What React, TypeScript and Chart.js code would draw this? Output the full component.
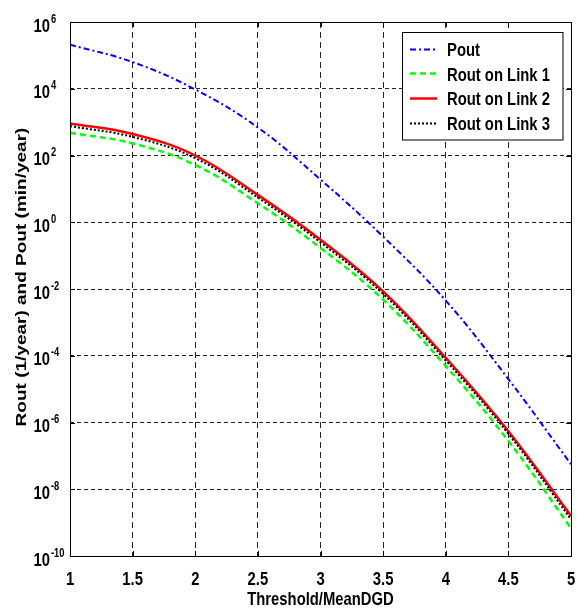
import React, { useEffect, useRef } from "react";
import { Chart, registerables } from "chart.js";

Chart.register(...registerables);

const xValues = [1, 1.5, 2, 2.5, 3, 3.5, 4, 4.5, 5];
const xTickLabels = ["1", "1.5", "2", "2.5", "3", "3.5", "4", "4.5", "5"];
const yTickExponents = [-10, -8, -6, -4, -2, 0, 2, 4, 6];

const pout = [2.1e5, 6.3e4, 9.5e3, 6.9e2, 1.9e1, 3.7e-1, 4.5e-3, 2.0e-5, 5.6e-8];
const routLink1 = [4.8e2, 2.3e2, 5.2e1, 3.7, 1.7e-1, 4.8e-3, 4.9e-5, 2.8e-7, 6.8e-10];
const routLink2 = [9.1e2, 4.4e2, 1.0e2, 6.6, 3.0e-1, 8.5e-3, 8.7e-5, 5.5e-7, 1.6e-9];
const routLink3 = [7.6e2, 3.6e2, 8.3e1, 5.5, 2.5e-1, 7.1e-3, 7.2e-5, 4.6e-7, 1.26e-9];

const seriesNames = ["Pout", "Rout on Link 1", "Rout on Link 2", "Rout on Link 3"];
const xTitle = "Threshold/MeanDGD";
const yTitle = "Rout (1/year) and Pout (min/year)";

const FONT = '"Liberation Sans", Arial, sans-serif';
const SX = 0.78;

function drawText(ctx: CanvasRenderingContext2D, s: string, x: number, y: number, size: number, align: CanvasTextAlign) {
  ctx.save();
  ctx.translate(x, y);
  ctx.scale(SX, 1);
  ctx.font = `bold ${size}px ${FONT}`;
  ctx.textAlign = align;
  ctx.textBaseline = "alphabetic";
  ctx.fillStyle = "#000";
  ctx.fillText(s, 0, 0);
  ctx.restore();
}

const framePlugin = {
  id: "matlabFrame",
  afterDraw(chart: any) {
    const ctx: CanvasRenderingContext2D = chart.ctx;
    const { left, right, top, bottom } = chart.chartArea;
    const xs = chart.scales.x;
    const ys = chart.scales.y;

    ctx.save();
    // inward ticks
    ctx.strokeStyle = "#000";
    ctx.lineWidth = 1;
    ctx.setLineDash([]);
    ctx.beginPath();
    xs.ticks.forEach((t: any) => {
      const px = Math.round(xs.getPixelForValue(t.value)) + 0.5;
      ctx.moveTo(px, bottom);
      ctx.lineTo(px, bottom - 5);
      ctx.moveTo(px, top);
      ctx.lineTo(px, top + 5);
    });
    ys.ticks.forEach((t: any) => {
      const py = Math.round(ys.getPixelForValue(t.value)) + 0.5;
      ctx.moveTo(left, py);
      ctx.lineTo(left + 5, py);
      ctx.moveTo(right, py);
      ctx.lineTo(right - 5, py);
    });
    ctx.stroke();
    // frame
    ctx.strokeRect(Math.round(left) + 0.5, Math.round(top) + 0.5, Math.round(right - left), Math.round(bottom - top));

    // y tick labels
    ys.ticks.forEach((t: any) => {
      const py = ys.getPixelForValue(t.value);
      const e = Math.round(Math.log10(t.value));
      drawText(ctx, "10", 50, py + 9.5, 19, "right");
      drawText(ctx, String(e), 51, py + 0.5, 12, "left");
    });
    // x tick labels
    xs.ticks.forEach((t: any, i: number) => {
      const px = xs.getPixelForValue(t.value);
      drawText(ctx, xTickLabels[i] ?? String(t.value), px, 584.5, 19, "center");
    });
    // titles
    drawText(ctx, xTitle, (left + right) / 2, 605, 19, "center");
    ctx.save();
    ctx.translate(26, 277);
    ctx.scale(SX, 1);
    ctx.rotate(-Math.PI / 2);
    ctx.font = `bold 19px ${FONT}`;
    ctx.textAlign = "center";
    ctx.textBaseline = "alphabetic";
    ctx.fillStyle = "#000";
    ctx.fillText(yTitle, 0, 0);
    ctx.restore();

    // legend
    const bx = 402.5, by = 32.5, bw = 160.5, bh = 107.5;
    ctx.fillStyle = "#fff";
    ctx.fillRect(bx, by, bw, bh);
    ctx.strokeStyle = "#000";
    ctx.lineWidth = 1;
    ctx.setLineDash([]);
    ctx.strokeRect(bx, by, bw, bh);
    chart.data.datasets.forEach((ds: any, i: number) => {
      const base = 56 + i * 24.7;
      const ly = Math.round(base - 7.5) + 0.5;
      ctx.save();
      ctx.strokeStyle = ds.borderColor;
      ctx.lineWidth = ds.borderWidth;
      ctx.setLineDash(ds.borderDash || []);
      ctx.beginPath();
      ctx.moveTo(410, ly);
      ctx.lineTo(437, ly);
      ctx.stroke();
      ctx.restore();
      drawText(ctx, ds.label, 447, base, 19, "left");
    });
    ctx.restore();
  },
};

export default function App() {
  const ref = useRef<HTMLCanvasElement | null>(null);
  useEffect(() => {
    if (!ref.current) return;
    const mk = (vals: number[]) => xValues.map((x, i) => ({ x, y: vals[i] }));
    const chart = new Chart(ref.current, {
      type: "line",
      data: {
        datasets: [
          { label: seriesNames[0], data: mk(pout), borderColor: "#0000ff", borderWidth: 2, borderDash: [6, 3, 2, 3], order: 4 },
          { label: seriesNames[1], data: mk(routLink1), borderColor: "#00ff00", borderWidth: 2.5, borderDash: [6, 4], order: 3 },
          { label: seriesNames[2], data: mk(routLink2), borderColor: "#ff0000", borderWidth: 2.5, borderDash: [], order: 2 },
          { label: seriesNames[3], data: mk(routLink3), borderColor: "#000000", borderWidth: 2, borderDash: [2, 2], order: 1 },
        ] as any,
      },
      options: {
        animation: false,
        responsive: false,
        devicePixelRatio: 1,
        layout: { padding: { left: 70, top: 22, right: 7, bottom: 55 } },
        elements: { point: { radius: 0 }, line: { tension: 0.4, fill: false } },
        plugins: { legend: { display: false }, tooltip: { enabled: false } },
        scales: {
          x: {
            type: "linear",
            min: 1,
            max: 5,
            afterBuildTicks: (s: any) => {
              s.ticks = xValues.map((v) => ({ value: v }));
            },
            ticks: { display: false },
            grid: { color: "#222", lineWidth: 1, drawTicks: false },
            border: { display: false, dash: [6, 4] },
          },
          y: {
            type: "logarithmic",
            min: 1e-10,
            max: 1e6,
            afterBuildTicks: (s: any) => {
              s.ticks = yTickExponents.map((e) => ({ value: Math.pow(10, e) }));
            },
            ticks: { display: false },
            grid: { color: "#222", lineWidth: 1, drawTicks: false },
            border: { display: false, dash: [4, 3] },
          },
        },
      } as any,
      plugins: [framePlugin],
    });
    return () => chart.destroy();
  }, []);
  return (
    <div style={{ position: "absolute", left: 0, top: 0, width: 578, height: 611, background: "#fff" }}>
      <canvas ref={ref} width={578} height={611} style={{ display: "block" }} />
    </div>
  );
}
